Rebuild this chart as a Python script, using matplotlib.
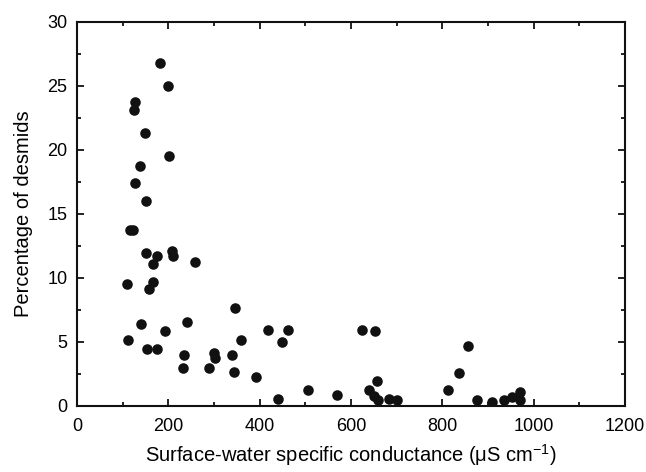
import matplotlib
matplotlib.use("Agg")
import matplotlib.pyplot as plt
from matplotlib.ticker import MultipleLocator

plt.rcParams['font.family'] = ['Liberation Sans', 'DejaVu Sans']
plt.rcParams['mathtext.fontset'] = 'custom'
plt.rcParams['mathtext.rm'] = 'Liberation Sans'

# conductance (uS/cm) vs percentage of desmids
conductance = [182, 199, 128, 124, 149, 202, 139, 128, 151,
               117, 123, 152, 176, 167, 208, 210, 259, 109, 166, 158,
               345, 141, 241, 111, 192, 360, 418, 461, 449, 153, 176,
               235, 299, 303, 340, 233, 288, 343, 391, 440,
               505, 570, 624, 653, 657, 639, 650, 660, 684, 701,
               813, 837, 857, 875, 908, 934, 953, 969, 971]
desmids = [26.8, 25.0, 23.75, 23.1, 21.3, 19.5, 18.7, 17.4, 16.0,
           13.7, 13.7, 11.95, 11.7, 11.05, 12.1, 11.7, 11.2, 9.5, 9.7, 9.1,
           7.6, 6.4, 6.5, 5.1, 5.85, 5.1, 5.95, 5.95, 4.95, 4.4, 4.4,
           3.95, 4.1, 3.75, 3.95, 2.95, 2.95, 2.65, 2.25, 0.55,
           1.25, 0.85, 5.95, 5.85, 1.95, 1.25, 0.75, 0.45, 0.55, 0.45,
           1.25, 2.55, 4.65, 0.45, 0.3, 0.45, 0.7, 1.1, 0.45]

fig = plt.figure(figsize=(6.46, 4.72), dpi=100)
ax = fig.add_axes([0.1192, 0.1405, 0.8483, 0.8135])

ax.plot(conductance, desmids, 'o', color='#111111', markersize=7.6, markeredgewidth=0)

ax.set_xlim(0, 1200)
ax.set_ylim(0, 30)
ax.xaxis.set_major_locator(MultipleLocator(200))
ax.xaxis.set_minor_locator(MultipleLocator(100))
ax.yaxis.set_major_locator(MultipleLocator(5))
ax.yaxis.set_minor_locator(MultipleLocator(2.5))

ax.tick_params(which='both', direction='in', top=True, right=True, width=1.3,
               labelsize=13, color='#111111')
ax.tick_params(which='major', length=5)
ax.tick_params(which='minor', length=3)
ax.tick_params(axis='x', which='major', pad=9)
ax.tick_params(axis='y', which='major', pad=7)
for sp in ax.spines.values():
    sp.set_linewidth(1.5)
    sp.set_color('#111111')

ax.set_xlabel('Surface-water specific conductance (\u03bcS cm$^{\\mathregular{-1}}$)',
              fontsize=14.5, labelpad=5)
ax.set_ylabel('Percentage of desmids', fontsize=14.5, labelpad=10)

fig.savefig('out.png', dpi=100)
